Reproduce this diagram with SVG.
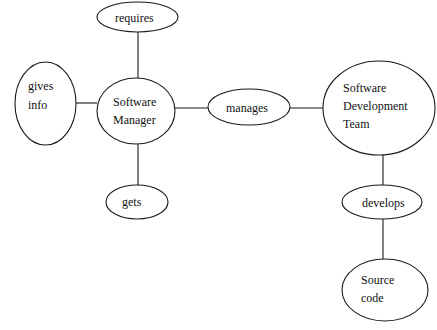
<svg xmlns="http://www.w3.org/2000/svg" width="437" height="330" viewBox="0 0 437 330">
<style>
.n{fill:#fff;stroke:#1a1a1a;stroke-width:1.1}
.c line{stroke:#1a1a1a;stroke-width:1.1}
text{font-family:'Liberation Serif','Times New Roman',serif;font-size:12px;fill:#111}
</style>
<rect width="437" height="330" fill="#fff"/>
<g class="c" id="connectors">
<line x1="138" y1="32" x2="138" y2="78"/>
<line x1="76" y1="103" x2="97" y2="103"/>
<line x1="175" y1="108" x2="208" y2="108"/>
<line x1="290" y1="108" x2="323" y2="108"/>
<line x1="138" y1="144" x2="138" y2="185"/>
<line x1="383" y1="155" x2="383" y2="185"/>
<line x1="383" y1="219" x2="383" y2="259"/>
</g>
<g font-family="'Liberation Serif', 'Times New Roman', serif" font-size="12">
<g id="requires"><ellipse class="n" cx="137.5" cy="17" rx="40.5" ry="15"/><text x="115" y="22">requires</text></g>
<g id="gives-info"><ellipse class="n" cx="45.5" cy="103.5" rx="30.5" ry="41.5"/><text x="28" y="90">gives</text><text x="28" y="109">info</text></g>
<g id="software-manager"><ellipse class="n" cx="136" cy="111" rx="39" ry="33"/><text x="113" y="106">Software</text><text x="113" y="124">Manager</text></g>
<g id="manages"><ellipse class="n" cx="249" cy="107" rx="41" ry="18"/><text x="226" y="112">manages</text></g>
<g id="software-development-team"><ellipse class="n" cx="379" cy="108" rx="56" ry="47"/><text x="343" y="92">Software</text><text x="343" y="110">Development</text><text x="343" y="128">Team</text></g>
<g id="gets"><ellipse class="n" cx="137" cy="202" rx="31" ry="17"/><text x="122" y="206">gets</text></g>
<g id="develops"><ellipse class="n" cx="382" cy="202" rx="40" ry="17"/><text x="362" y="207">develops</text></g>
<g id="source-code"><ellipse class="n" cx="385" cy="290" rx="43" ry="31"/><text x="361" y="284">Source</text><text x="361" y="302">code</text></g>
</g>
</svg>
